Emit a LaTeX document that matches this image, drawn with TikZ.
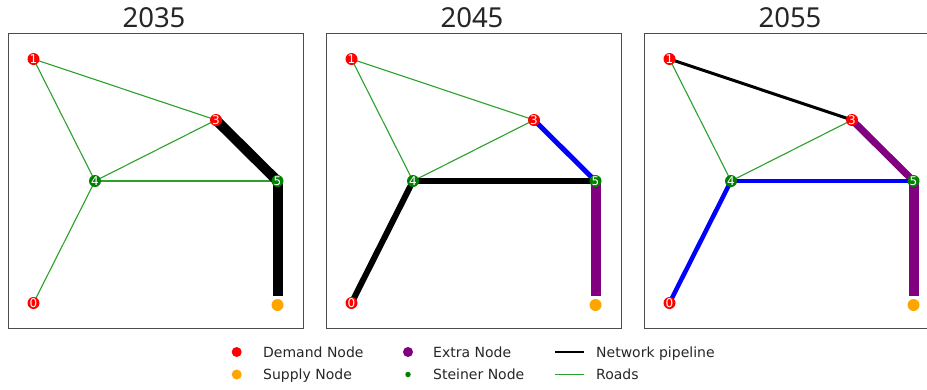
\documentclass[tikz,border=0pt]{standalone}
\usepackage{fontspec}
\setmainfont{DejaVu Sans}
\newfontfamily\yearfont{Noto Sans}
\usetikzlibrary{backgrounds}
\definecolor{roadgreen}{HTML}{2CA02C}
\definecolor{txt}{HTML}{262626}
\definecolor{supplyc}{HTML}{FFA500}
\definecolor{extrac}{HTML}{800080}
\definecolor{demandc}{HTML}{FF0000}
\definecolor{steinerc}{HTML}{008000}
\definecolor{pipeblue}{HTML}{0000FF}

\tikzset{
  demandnode/.style={circle, fill=demandc, inner sep=0pt, minimum size=12pt,
    text=white, font=\fontsize{12}{12}\selectfont},
  steinernode/.style={demandnode, fill=steinerc},
  supplynode/.style={circle, fill=supplyc, inner sep=0pt, minimum size=12pt, outer sep=3.3pt},
  road/.style={draw=roadgreen, line width=1.1pt},
  pipe/.style={line width=#1},
  frame/.style={draw=black!70, line width=1pt},
  yeartitle/.style={text=txt, font=\yearfont\fontsize{27.5}{27.5}\selectfont, anchor=base},
  legtext/.style={text=txt, font=\fontsize{14}{14}\selectfont, anchor=base west, inner sep=0pt},
  legdot/.style={circle, inner sep=0pt, minimum size=#1},
}

% One panel of the network: frame, year, the five nodes, the supply point and the roads.
\newcommand\netpanel[3]{%
  \begin{scope}[xshift=#2]
    \draw[frame] (8,33) rectangle (303,328);
    \node[yeartitle] (#1T) at (154,27) {#3};
    \node[demandnode]  (#10) at (33.5,303) {0};
    \node[demandnode]  (#11) at (33.5,59) {1};
    \node[demandnode]  (#13) at (216,120) {3};
    \node[steinernode] (#14) at (95,181) {4};
    \node[steinernode] (#15) at (277.5,181) {5};
    \node[supplynode]  (#1S) at (277.5,305) {};
    \begin{pgfonlayer}{background}
      \draw[road] (#11.center) -- (#13.center);
      \draw[road] (#11.center) -- (#14.center);
      \draw[road] (#13.center) -- (#14.center);
      \draw[road] (#14.center) -- (#15.center);
      \draw[road] (#14.center) -- (#10.center);
    \end{pgfonlayer}
  \end{scope}}

\begin{document}
\begin{tikzpicture}[x=1pt, y=-1pt]
  \useasboundingbox (0,0) rectangle (927,389);
  \clip (0,0) rectangle (927,389);

  \netpanel{a}{0pt}{2035}
  \netpanel{b}{318pt}{2045}
  \netpanel{c}{636pt}{2055}

  \begin{pgfonlayer}{background}
    % 2035
    \draw[pipe=10pt, black] (a3.center) -- (a5.center);
    \draw[pipe=10pt, black] (a5.center) -- (aS);
    % 2045
    \draw[pipe=6pt, black] (b4.center) -- (b0.center);
    \draw[pipe=5.5pt, black] (b4.center) -- (b5.center);
    \draw[pipe=5pt, pipeblue] (b3.center) -- (b5.center);
    \draw[pipe=10pt, extrac] (b5.center) -- (bS);
    % 2055
    \draw[pipe=3pt, black] (c1.center) -- (c3.center);
    \draw[pipe=7pt, extrac] (c3.center) -- (c5.center);
    \draw[pipe=4pt, pipeblue] (c4.center) -- (c5.center);
    \draw[pipe=4.5pt, pipeblue] (c4.center) -- (c0.center);
    \draw[pipe=10pt, extrac] (c5.center) -- (cS);
  \end{pgfonlayer}

  % legend
  \node[legdot=10pt, fill=demandc]  (ldem) at (236.7,352) {};
  \node[legdot=10pt, fill=supplyc]  (lsup) at (236.7,374.5) {};
  \node[legdot=10pt, fill=extrac]   (lext) at (408,352) {};
  \node[legdot=5.5pt, fill=steinerc] (lste) at (408,374.5) {};
  \coordinate (lpa) at (555,352);
  \coordinate (lpb) at (584,352);
  \coordinate (lra) at (555,374.5);
  \coordinate (lrb) at (584,374.5);
  \draw[line width=1.5pt, black] (lpa) -- (lpb);
  \draw[line width=1.5pt, roadgreen] (lra) -- (lrb);
  \node[legtext] (tdem) at (263,357) {Demand Node};
  \node[legtext] (tsup) at (263,379.6) {Supply Node};
  \node[legtext] (text) at (433,357) {Extra Node};
  \node[legtext] (tste) at (433,379.6) {Steiner Node};
  \node[legtext] (tpip) at (596,357) {Network pipeline};
  \node[legtext] (troa) at (596,379.6) {Roads};
\end{tikzpicture}
\end{document}
